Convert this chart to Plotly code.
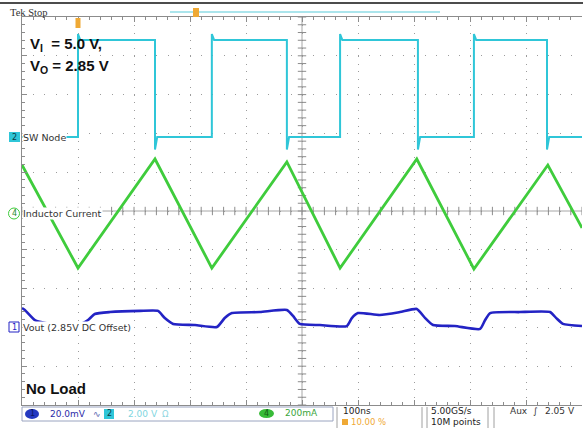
import numpy as np
import plotly.graph_objects as go

# ---------------------------------------------------------------------------
# Canvas / graticule geometry (10 x 10 divisions, 100 ns/div)
# ---------------------------------------------------------------------------
W, H = 583, 428
ML, MR, MT, MB = 22, 1, 17, 23
PW, PH = W - ML - MR, H - MT - MB
T_SPAN = 1000.0          # ns across the screen
N_DIV = 10

# ---------------------------------------------------------------------------
# Channel 2 : switch node, 2.00 V/div
# ---------------------------------------------------------------------------
SW_SCALE, SW_POS = 2.0, 1.91
sw_rise_ns = [100, 339, 568, 807]
sw_fall_ns = [237.5, 473, 707, 937.5]
sw_low_v, sw_high_v = 0.0, 5.0
sw_overshoot_v, sw_undershoot_v = 5.3, -0.65
sw_settle_ns = 4

# ---------------------------------------------------------------------------
# Channel 4 : inductor current, 200 mA/div
# ---------------------------------------------------------------------------
IL_SCALE, IL_POS = 200.0, -0.05
il_ns = [0, 100, 237.5, 339, 473, 568, 705, 807, 939, 1000]
il_ma = [247, -284, 278, -284, 263, -284, 278, -289, 247, -77]

# ---------------------------------------------------------------------------
# Channel 1 : output voltage ripple (2.85 V DC offset), 20.0 mV/div
# ---------------------------------------------------------------------------
VO_SCALE, VO_POS = 20.0, -3.0
vo_ns = [0, 5, 23, 50, 105, 118, 130, 157, 211, 243, 255, 270, 309, 348, 362,
         375, 425, 473, 484, 496, 532, 580, 589, 600, 639, 675, 705, 720, 734,
         773, 818, 827, 836, 889, 943, 954, 966, 1000]
vo_mv = [10.0, 9.0, 3.8, 1.8, 1.8, 3.8, 6.9, 7.9, 8.5, 8.5, 4.8, 1.8, 1.2, 0.2,
         4.8, 7.4, 7.9, 9.0, 5.9, 1.8, 1.2, 0.7, 4.8, 7.4, 6.4, 7.9, 9.5, 4.8,
         1.2, 0.7, -0.8, 3.8, 7.4, 7.9, 7.9, 4.8, 1.8, 0.7]

CYAN = "#2fc6d8"
GREEN = "#3fcc3c"
BLUE = "#2323c4"
ORANGE = "#efa935"
GRID = "#9c9c9c"
FRAME = "#8c8c8c"
CENTRE = "#a6a6a6"


def px(x):
    """Screen pixel column -> paper x."""
    return (x - ML) / PW


def py(y):
    """Screen pixel row -> paper y."""
    return (H - MB - y) / PH


# Switch node polyline from the edge times
events = sorted([(t, "r") for t in sw_rise_ns] + [(t, "f") for t in sw_fall_ns])
sw_t, sw_v = [0.0], [sw_low_v]
for t, kind in events:
    if kind == "r":
        sw_t += [t, t, t + sw_settle_ns]
        sw_v += [sw_low_v, sw_overshoot_v, sw_high_v]
    else:
        sw_t += [t, t, t + sw_settle_ns]
        sw_v += [sw_high_v, sw_undershoot_v, sw_low_v]
sw_t.append(T_SPAN)
sw_v.append(sw_v[-1])

sw_div = np.array(sw_v) / SW_SCALE + SW_POS
il_div = np.array(il_ma) / IL_SCALE + IL_POS
vo_div = np.array(vo_mv) / VO_SCALE + VO_POS

fig = go.Figure()

# centre-line tick marks
minor_x = np.arange(0, T_SPAN + 1, T_SPAN / N_DIV / 5)
minor_y = np.arange(-5, 5.001, 0.2)
fig.add_trace(go.Scatter(
    x=minor_x, y=np.zeros_like(minor_x), mode="markers", hoverinfo="skip",
    marker=dict(symbol="line-ns", size=6, line=dict(color=FRAME, width=1))))
fig.add_trace(go.Scatter(
    x=np.full_like(minor_y, T_SPAN / 2), y=minor_y, mode="markers", hoverinfo="skip",
    marker=dict(symbol="line-ew", size=6, line=dict(color=FRAME, width=1))))

fig.add_trace(go.Scatter(x=vo_ns, y=vo_div, mode="lines", hoverinfo="skip",
                         line=dict(color=BLUE, width=2.6, shape="spline", smoothing=0.5)))
fig.add_trace(go.Scatter(x=il_ns, y=il_div, mode="lines", hoverinfo="skip",
                         line=dict(color=GREEN, width=2.8)))
fig.add_trace(go.Scatter(x=sw_t, y=sw_div, mode="lines", hoverinfo="skip",
                         line=dict(color=CYAN, width=2)))

shapes = [
    # centre cross
    dict(type="line", xref="x", yref="y", x0=T_SPAN / 2, x1=T_SPAN / 2, y0=-5, y1=5,
         line=dict(color=CENTRE, width=1), layer="below"),
    dict(type="line", xref="x", yref="y", x0=0, x1=T_SPAN, y0=0, y1=0,
         line=dict(color=CENTRE, width=1), layer="below"),
    # header rule
    dict(type="line", xref="paper", yref="paper", x0=px(0), x1=px(W), y0=py(3), y1=py(3),
         line=dict(color="#111111", width=1.5)),
    # record-view bar + position marker
    dict(type="line", xref="paper", yref="paper", x0=px(170), x1=px(440), y0=py(12), y1=py(12),
         line=dict(color="#8fdde6", width=1.5)),
    dict(type="rect", xref="paper", yref="paper", x0=px(193), x1=px(199), y0=py(17), y1=py(8),
         fillcolor=ORANGE, line=dict(width=0)),
    # trigger position marker
    dict(type="rect", xref="paper", yref="paper", x0=px(75.5), x1=px(80.5), y0=py(28), y1=py(18),
         fillcolor=ORANGE, line=dict(width=0)),
    # channel ground markers
    dict(type="rect", xref="paper", yref="paper", x0=px(9), x1=px(20), y0=py(142), y1=py(132),
         fillcolor=CYAN, line=dict(width=0)),
    dict(type="circle", xref="paper", yref="paper", x0=px(8.5), x1=px(19.5), y0=py(219), y1=py(208),
         fillcolor="white", line=dict(color=GREEN, width=1)),
    dict(type="rect", xref="paper", yref="paper", x0=px(9), x1=px(19), y0=py(332), y1=py(322),
         fillcolor="white", line=dict(color=BLUE, width=1)),
    # status bar
    dict(type="rect", xref="paper", yref="paper", x0=px(22), x1=px(333), y0=py(421), y1=py(407),
         line=dict(color="#9aa4c0", width=1)),
    dict(type="circle", xref="paper", yref="paper", x0=px(25), x1=px(39), y0=py(419), y1=py(409),
         fillcolor="#2438c0", line=dict(width=0)),
    dict(type="rect", xref="paper", yref="paper", x0=px(104), x1=px(114), y0=py(419), y1=py(409),
         fillcolor=CYAN, line=dict(width=0)),
    dict(type="circle", xref="paper", yref="paper", x0=px(259), x1=px(274), y0=py(418), y1=py(409),
         fillcolor="#38bb38", line=dict(width=0)),
    dict(type="rect", xref="paper", yref="paper", x0=px(342), x1=px(348), y0=py(425), y1=py(419),
         fillcolor=ORANGE, line=dict(width=0)),
]
for xs in (337, 422, 427, 488, 494):
    shapes.append(dict(type="line", xref="paper", yref="paper", x0=px(xs), x1=px(xs),
                       y0=py(428), y1=py(407), line=dict(color="#a0a0a0", width=1)))

LABEL_FONT = "DejaVu Sans, Verdana, sans-serif"
BAR_FONT = "DejaVu Sans, Verdana, sans-serif"
BOLD_FONT = "Liberation Sans, Arial, sans-serif"


def note(x, y, text, size, color, family=LABEL_FONT, bg=None, anchor="left"):
    d = dict(xref="paper", yref="paper", x=px(x), y=py(y), text=text, showarrow=False,
             xanchor=anchor, yanchor="middle", font=dict(size=size, color=color, family=family),
             borderpad=0)
    if bg:
        d["bgcolor"] = bg
    return d


annotations = [
    note(9, 12, "Tek Stop", 10.5, "#333333", family="Liberation Serif, serif"),
    note(29, 45, "<b>V<sub>I</sub>  = 5.0 V,</b>", 15, "#111111", family=BOLD_FONT),
    note(29, 66, "<b>V<sub>O</sub> = 2.85 V</b>", 15, "#111111", family=BOLD_FONT),
    note(25, 388, "<b>No Load</b>", 15, "#111111", family=BOLD_FONT),
    # channel labels
    note(14.5, 137, "2", 8, "#0b3b44", anchor="center"),
    note(14, 213.5, "4", 8, "#2c8a2c", anchor="center"),
    note(14, 327, "1", 8, BLUE, anchor="center"),
    note(22, 137, "SW Node", 9.5, "#333333", bg="white"),
    note(22, 213, "Inductor Current", 9.5, "#333333", bg="white"),
    note(22, 327, "Vout (2.85V DC Offset)", 9.5, "#333333", bg="white"),
    # status bar
    note(32, 414, "1", 8, "#0a1660", anchor="center"),
    note(49, 414, "20.0mV", 9, "#2c2ca8", family=BAR_FONT),
    note(92, 414, "∿", 9, "#5a66b0", family=BAR_FONT),
    note(109, 414, "2", 8, "#0b3b44", anchor="center"),
    note(127, 414, "2.00 V", 9, "#7fd6e0", family=BAR_FONT),
    note(161, 414, "Ω", 8.5, "#8fd6df", family=BAR_FONT),
    note(266.5, 413.5, "4", 8, "#145c14", anchor="center"),
    note(284, 413, "200mA", 9, "#3aa53a", family=BAR_FONT),
    note(342, 411, "100ns", 9, "#222222", family=BAR_FONT),
    note(350, 422, "10.00 %", 8.5, ORANGE, family=BAR_FONT),
    note(430, 411, "5.00GS/s", 9, "#222222", family=BAR_FONT),
    note(430, 422, "10M points", 9, "#222222", family=BAR_FONT),
    note(509, 411, "Aux  ∫", 9, "#333333", family=BAR_FONT),
    note(544, 411, "2.05 V", 9, "#333333", family=BAR_FONT),
]

axis_common = dict(zeroline=False, showticklabels=False, showline=True, linecolor=FRAME,
                   linewidth=1, ticks="inside", tickcolor=FRAME, ticklen=5, showgrid=True,
                   gridcolor=GRID, gridwidth=1, fixedrange=True)

fig.update_layout(
    width=W, height=H,
    margin=dict(l=ML, r=MR, t=MT, b=MB),
    paper_bgcolor="white", plot_bgcolor="white",
    showlegend=False,
    xaxis=dict(range=[0, T_SPAN], dtick=T_SPAN / N_DIV, tick0=0, mirror="ticks",
               griddash="1px,6.76px",
               minor=dict(dtick=T_SPAN / N_DIV / 5, tick0=0, ticks="inside", ticklen=3,
                          tickcolor=FRAME, showgrid=False),
               **axis_common),
    yaxis=dict(range=[-5, 5], dtick=1, tick0=0, mirror=False, griddash="1px,10.2px",
               minor=dict(dtick=0.2, tick0=0, ticks="inside", ticklen=3,
                          tickcolor=FRAME, showgrid=False),
               **axis_common),
    shapes=shapes,
    annotations=annotations,
)

fig.write_html("out.html")
